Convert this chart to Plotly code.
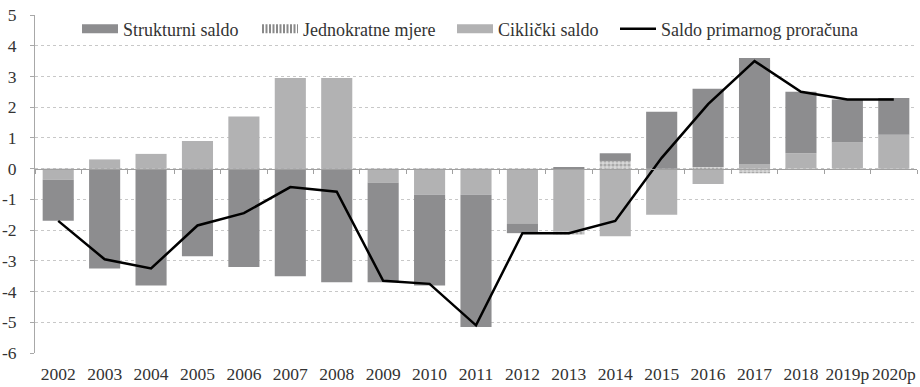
import plotly.graph_objects as go

years = ["2002", "2003", "2004", "2005", "2006", "2007", "2008", "2009", "2010", "2011",
         "2012", "2013", "2014", "2015", "2016", "2017", "2018", "2019p", "2020p"]
strukturni = [-1.35, -3.25, -3.8, -2.85, -3.2, -3.5, -3.7, -3.25, -2.95, -4.3,
              -0.3, 0.05, 0.25, 1.85, 2.55, 3.45, 2.0, 1.4, 1.2]
jednokratne = [0, 0, 0, 0, 0, 0, 0, 0, 0, 0,
               0, -0.1, 0.25, 0, 0.05, -0.15, 0, 0, 0]
ciklicki = [-0.35, 0.3, 0.48, 0.9, 1.7, 2.95, 2.95, -0.45, -0.85, -0.85,
            -1.8, -2.05, -2.2, -1.5, -0.5, 0.15, 0.5, 0.85, 1.1]
primarni = [-1.7, -2.95, -3.25, -1.85, -1.45, -0.6, -0.75, -3.65, -3.75, -5.1,
            -2.1, -2.1, -1.7, 0.35, 2.1, 3.5, 2.5, 2.25, 2.25]
y_tickvals = [-6, -5, -4, -3, -2, -1, 0, 1, 2, 3, 4, 5]
y_ticktext = ["-6", "-5", "-4", "-3", "-2", "-1", "0", "1", "2", "3", "4", "5"]

names = ["Strukturni saldo", "Jednokratne mjere", "Ciklički saldo", "Saldo primarnog proračuna"]

DARK = "#8d8d8f"
LIGHT = "#b2b2b3"
FONT = "Liberation Serif"
TXT = "#333333"
W, H = 920, 387
ML, MR, MT, MB = 35, 3, 15, 34
PW, PH = W - ML - MR, H - MT - MB

fig = go.Figure()
fig.add_trace(go.Bar(x=years, y=ciklicki, name=names[2], marker=dict(color=LIGHT, line_width=0),
                     showlegend=False, legendgroup="c"))
fig.add_trace(go.Bar(x=years, y=jednokratne, name=names[1],
                     marker=dict(color="white", line_width=0,
                                 pattern=dict(shape=".", fgcolor="#7a7a7a", bgcolor="#d8d8d8", size=4, solidity=0.5)),
                     showlegend=False, legendgroup="j"))
fig.add_trace(go.Bar(x=years, y=strukturni, name=names[0], marker=dict(color=DARK, line_width=0),
                     showlegend=False, legendgroup="s"))
fig.add_trace(go.Scatter(x=years, y=primarni, name=names[3], mode="lines", xaxis="x2",
                         line=dict(color="black", width=2.5), showlegend=False, legendgroup="p"))

# legend entries (screen x of the symbol start)
leg_specs = [
    (names[0], dict(color=DARK, width=9), "s", "legend", 82),
    (names[1], dict(color="#8a8a8a", width=9, dash="2px,1.5px"), "j", "legend2", 262),
    (names[2], dict(color=LIGHT, width=9), "c", "legend3", 457),
    (names[3], dict(color="black", width=2.5), "p", "legend4", 620),
]
legend_layout = {}
for nm, ln, grp, lg, px in leg_specs:
    fig.add_trace(go.Scatter(x=[None], y=[None], mode="lines", name=nm, line=ln,
                             legendgroup=grp, legend=lg, showlegend=True))
    legend_layout[lg] = dict(
        xref="paper", yref="paper", x=(px - 5 - ML) / PW, y=1 - (29 - MT) / PH,
        xanchor="left", yanchor="middle", bgcolor="rgba(255,255,255,0)",
        borderwidth=0, itemwidth=36, font=dict(family=FONT, size=18, color=TXT),
        orientation="h", itemclick=False, itemdoubleclick=False,
    )

fig.update_layout(
    width=W, height=H,
    margin=dict(l=ML, r=MR, t=MT, b=MB, autoexpand=False),
    paper_bgcolor="white", plot_bgcolor="white",
    barmode="relative", bargap=0.33,
    font=dict(family=FONT, size=17, color=TXT),
    xaxis=dict(type="category", showgrid=False, showline=False, ticks="", zeroline=False,
               ticklabelstandoff=8, automargin=False,
               tickfont=dict(family=FONT, size=17.5, color=TXT)),
    xaxis2=dict(type="category", overlaying="x", matches="x", anchor="free", position=6 / 11,
                showline=True, linecolor="#a0a0a0", linewidth=1, ticks="outside", ticklen=4,
                tickcolor="#a0a0a0", tickson="boundaries", showticklabels=False, showgrid=False),
    yaxis=dict(range=[-6, 5], tickvals=y_tickvals, ticktext=y_ticktext,
               showgrid=True, gridcolor="#c8c8c8", griddash="dot", gridwidth=1,
               zeroline=False, showline=True, linecolor="#a8a8a8", linewidth=1, automargin=False,
               ticks="outside", ticklen=4, tickcolor="#a8a8a8", ticklabelstandoff=10,
               tickfont=dict(family=FONT, size=17.5, color=TXT)),
    showlegend=True,
    **legend_layout,
)

fig.write_html("out.html", config={"displayModeBar": False},
               post_script="document.body.style.margin='0px';")
